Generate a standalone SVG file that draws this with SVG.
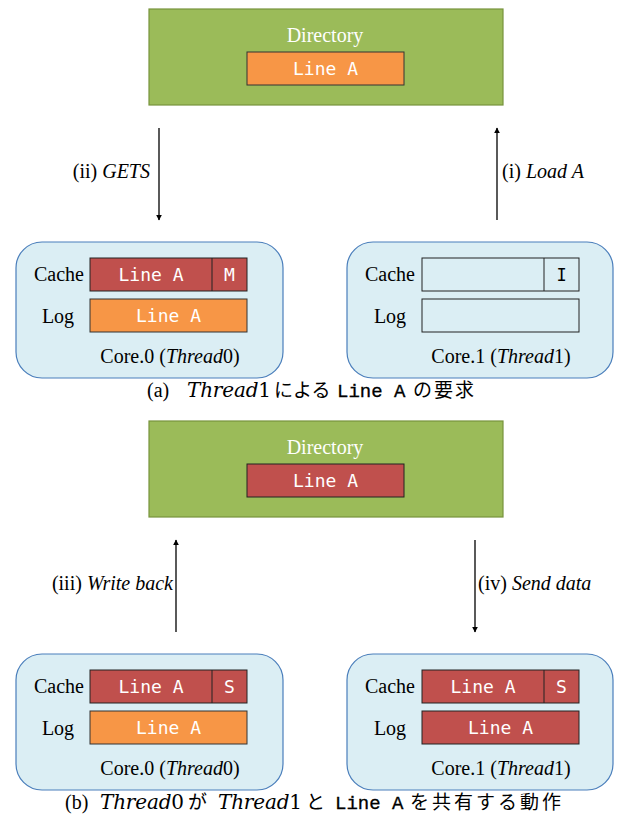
<svg xmlns="http://www.w3.org/2000/svg" width="618" height="816" viewBox="0 0 618 816">
<style>
.dir{fill:#9BBB59;stroke:#77933C;stroke-width:1.2}
.core{fill:#DBEEF4;stroke:#4A7EBB;stroke-width:1.2}
.or{fill:#F79646;stroke:#333;stroke-width:1}
.rd{fill:#C0504D;stroke:#222;stroke-width:1}
.em{fill:none;stroke:#222;stroke-width:1}
.t{font-family:"Liberation Serif",serif;font-size:20px;fill:#000}
.w{font-family:"Liberation Serif",serif;font-size:20px;fill:#fff}
.m{font-family:"DejaVu Sans Mono",monospace;font-size:18px;fill:#fff}
.mk{font-family:"DejaVu Sans Mono",monospace;font-size:17px;fill:#000}
.cs{font-family:"Liberation Serif",serif;font-size:20px;fill:#000}
.ci{font-family:"DejaVu Serif",serif;font-size:20px;fill:#000}
.cj{font-family:"Noto Sans CJK JP",sans-serif;font-size:19px;fill:#000}
.tt{font-family:"Liberation Mono",monospace;font-size:19px;fill:#000;stroke:#000;stroke-width:0.3}
.conn{stroke:#000;stroke-width:1.3;fill:none}
</style>
<defs>
<marker id="ah" viewBox="0 0 10 10" refX="9" refY="5" markerWidth="6" markerHeight="7" orient="auto" markerUnits="userSpaceOnUse">
<path d="M0,0 L10,5 L0,10 z" fill="#000"/>
</marker>
</defs>

<!-- (a) -->
<g id="dirA">
<rect class="dir" x="149" y="9" width="354" height="96"/>
<text class="w" x="325" y="42" text-anchor="middle">Directory</text>
<rect class="or" x="247" y="52" width="157" height="33"/>
<text class="m" x="325.5" y="75" text-anchor="middle">Line A</text>
</g>
<g id="core0A">
<rect class="core" x="16" y="242" width="267" height="136" rx="26"/>
<text class="t" x="84" y="281" text-anchor="end">Cache</text>
<rect class="rd" x="90" y="258" width="157" height="33"/>
<line x1="212" y1="258" x2="212" y2="291" stroke="#222"/>
<text class="m" x="151" y="281" text-anchor="middle">Line A</text>
<text class="m" x="229.5" y="281" text-anchor="middle">M</text>
<text class="t" x="58" y="323" text-anchor="middle">Log</text>
<rect class="or" x="90" y="299" width="157" height="33"/>
<text class="m" x="168.5" y="322" text-anchor="middle">Line A</text>
<text class="t" x="170" y="363" text-anchor="middle">Core.0 (<tspan font-style="italic">Thread</tspan>0)</text>
</g>
<g id="core1A">
<rect class="core" x="347" y="242" width="266" height="136" rx="26"/>
<text class="t" x="415" y="281" text-anchor="end">Cache</text>
<rect class="em" x="422" y="258" width="157" height="33"/>
<line x1="544" y1="258" x2="544" y2="291" stroke="#222"/>
<text class="mk" x="561.5" y="281" text-anchor="middle">I</text>
<text class="t" x="390" y="323" text-anchor="middle">Log</text>
<rect class="em" x="422" y="299" width="157" height="33"/>
<text class="t" x="501" y="363" text-anchor="middle">Core.1 (<tspan font-style="italic">Thread</tspan>1)</text>
</g>
<g id="captionA">
<text class="cs" x="147" y="397">(a)</text>
<text class="ci" x="187" y="397" textLength="84" lengthAdjust="spacing"><tspan font-style="italic">Thread</tspan>1</text>
<text class="cj" x="274" y="397">による</text>
<text class="tt" x="337" y="397">Line A</text>
<text class="cj" x="413" y="397" letter-spacing="2">の要求</text>
</g>

<!-- (b) -->
<g id="dirB">
<rect class="dir" x="149" y="421" width="354" height="96"/>
<text class="w" x="325" y="454" text-anchor="middle">Directory</text>
<rect class="rd" x="247" y="464" width="157" height="33"/>
<text class="m" x="325.5" y="487" text-anchor="middle">Line A</text>
</g>
<g id="core0B">
<rect class="core" x="16" y="654" width="267" height="136" rx="26"/>
<text class="t" x="84" y="693" text-anchor="end">Cache</text>
<rect class="rd" x="90" y="670" width="157" height="33"/>
<line x1="212" y1="670" x2="212" y2="703" stroke="#222"/>
<text class="m" x="151" y="693" text-anchor="middle">Line A</text>
<text class="m" x="229.5" y="693" text-anchor="middle">S</text>
<text class="t" x="58" y="735" text-anchor="middle">Log</text>
<rect class="or" x="90" y="711" width="157" height="33"/>
<text class="m" x="168.5" y="734" text-anchor="middle">Line A</text>
<text class="t" x="170" y="775" text-anchor="middle">Core.0 (<tspan font-style="italic">Thread</tspan>0)</text>
</g>
<g id="core1B">
<rect class="core" x="347" y="654" width="266" height="136" rx="26"/>
<text class="t" x="415" y="693" text-anchor="end">Cache</text>
<rect class="rd" x="422" y="670" width="157" height="33"/>
<line x1="544" y1="670" x2="544" y2="703" stroke="#222"/>
<text class="m" x="483" y="693" text-anchor="middle">Line A</text>
<text class="m" x="561.5" y="693" text-anchor="middle">S</text>
<text class="t" x="390" y="735" text-anchor="middle">Log</text>
<rect class="rd" x="422" y="711" width="157" height="33"/>
<text class="m" x="500.5" y="734" text-anchor="middle">Line A</text>
<text class="t" x="501" y="775" text-anchor="middle">Core.1 (<tspan font-style="italic">Thread</tspan>1)</text>
</g>
<g id="captionB">
<text class="cs" x="65" y="809">(b)</text>
<text class="ci" x="100" y="809" textLength="84" lengthAdjust="spacing"><tspan font-style="italic">Thread</tspan>0</text>
<text class="cj" x="188" y="809">が</text>
<text class="ci" x="218" y="809" textLength="84" lengthAdjust="spacing"><tspan font-style="italic">Thread</tspan>1</text>
<text class="cj" x="306" y="809">と</text>
<text class="tt" x="335" y="809">Line A</text>
<text class="cj" x="410" y="809" letter-spacing="3">を共有する動作</text>
</g>

<g id="connectors">
<line class="conn" x1="159" y1="128" x2="159" y2="220" marker-end="url(#ah)"/>
<text class="t" x="150" y="178" text-anchor="end">(ii) <tspan font-style="italic">GETS</tspan></text>
<line class="conn" x1="497" y1="220" x2="497" y2="128" marker-end="url(#ah)"/>
<text class="t" x="502" y="178">(i) <tspan font-style="italic">Load A</tspan></text>
<line class="conn" x1="176" y1="632" x2="176" y2="540" marker-end="url(#ah)"/>
<text class="t" x="173" y="590" text-anchor="end">(iii) <tspan font-style="italic">Write back</tspan></text>
<line class="conn" x1="475" y1="540" x2="475" y2="632" marker-end="url(#ah)"/>
<text class="t" x="478" y="590">(iv) <tspan font-style="italic">Send data</tspan></text>
</g>
</svg>
